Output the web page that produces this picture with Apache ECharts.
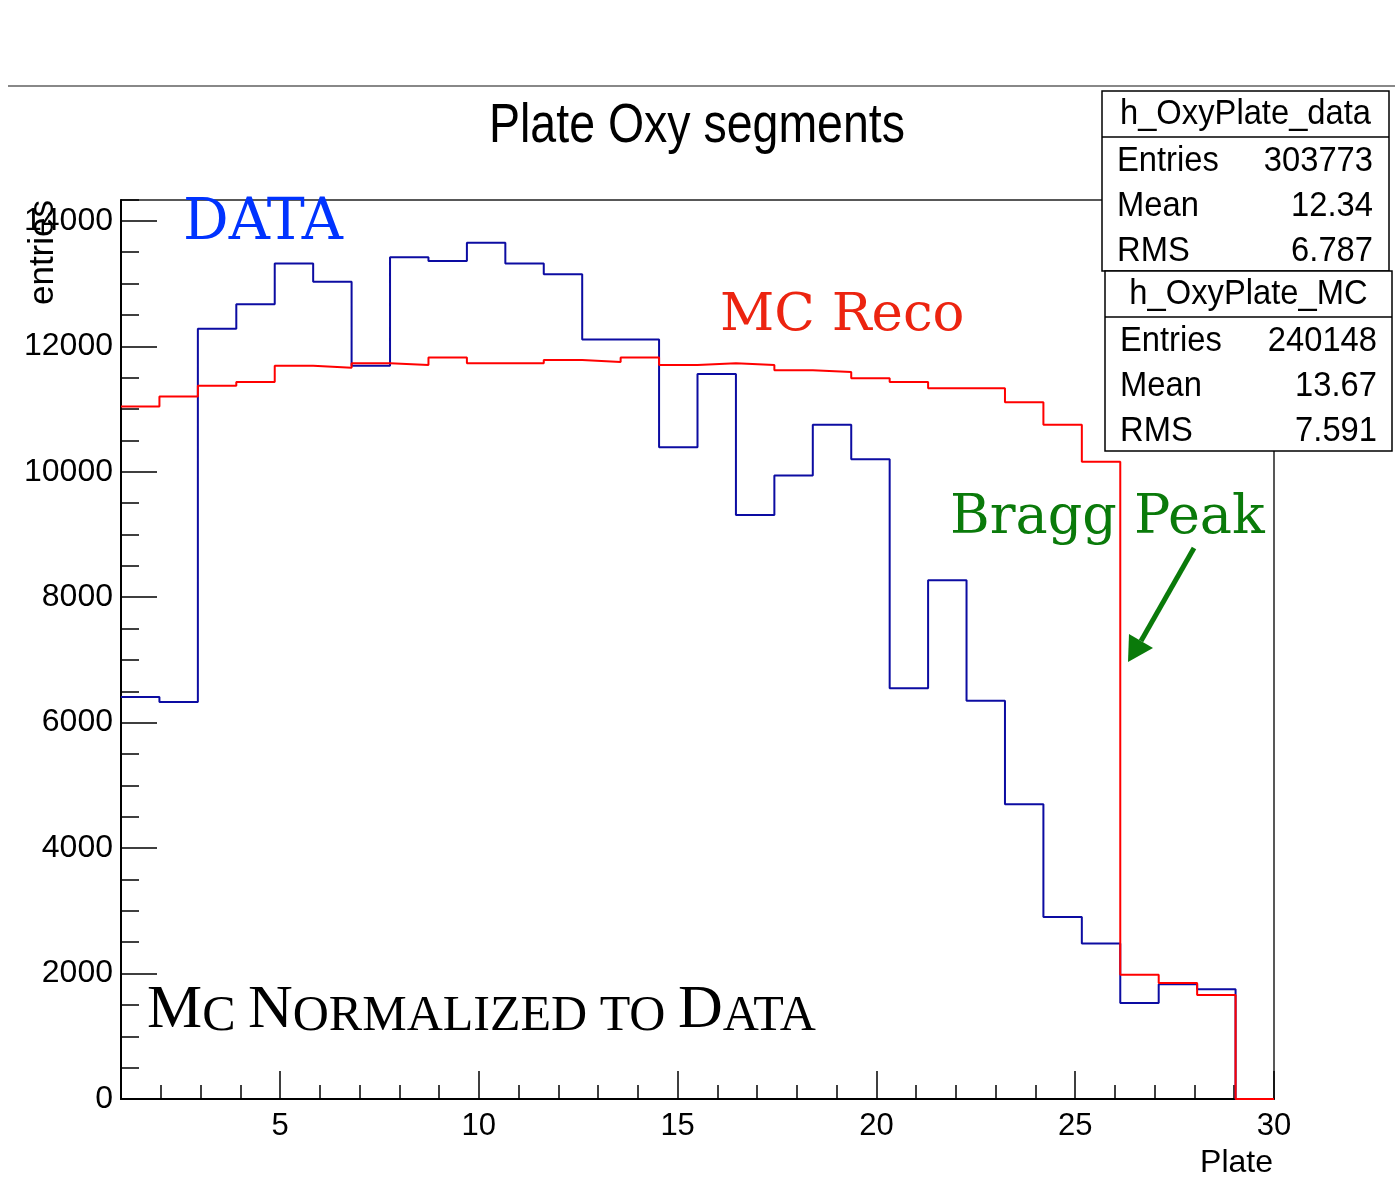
<!DOCTYPE html>
<html>
<head>
<meta charset="utf-8">
<script src="https://cdn.jsdelivr.net/npm/echarts@6/dist/echarts.min.js"></script>
<style>
  html, body { margin: 0; padding: 0; background: #fff; }
  #chart { width: 1395px; height: 1180px; }
</style>
</head>
<body>
<div id="chart"></div>
<script>
// Histogram binning: 30 equal bins spanning plate 1 .. 30
const binLow = 1;
const binHigh = 30;

// Bin contents, one per bin
const dataCounts = [6410, 6330, 12280, 12670, 13320, 13030, 11690, 13420, 13360, 13650,
                    13320, 13150, 12110, 12110, 10390, 11560, 9310, 9940, 10750, 10200,
                    6550, 8270, 6350, 4700, 2900, 2480, 1530, 1830, 1750, 0];
const mcCounts   = [11040, 11200, 11370, 11430, 11690, 11660, 11730, 11700, 11820, 11730,
                    11730, 11780, 11750, 11820, 11700, 11730, 11700, 11620, 11590, 11490,
                    11430, 11330, 11330, 11110, 10750, 10160, 1980, 1850, 1660, 0];

// Axis tick labels
const xTickLabels = [5, 10, 15, 20, 25, 30];
const yTickLabels = [0, 2000, 4000, 6000, 8000, 10000, 12000, 14000];

// Statistics boxes
const dataStatsTitle = 'h_OxyPlate_data';
const dataStats = [['Entries', '303773'], ['Mean', '12.34'], ['RMS', '6.787']];
const mcStatsTitle = 'h_OxyPlate_MC';
const mcStats = [['Entries', '240148'], ['Mean', '13.67'], ['RMS', '7.591']];

// y range: 5% headroom above the tallest bin
const yMax = 1.05 * Math.max(...dataCounts, ...mcCounts);

// Histogram outline: each bin contributes its top-left and top-right corner
function outline(counts) {
  const w = (binHigh - binLow) / counts.length;
  const pts = [];
  counts.forEach((c, i) => {
    pts.push([binLow + i * w, c]);
    pts.push([binLow + (i + 1) * w, c]);
  });
  return pts;
}

const SANS = 'Liberation Sans, Arial, Helvetica, sans-serif';
const SLAB = 'DejaVu Serif, serif';
const STAT_FONT = '35px ' + SANS;
const STAT_SX = 0.935;

function statsBox(x, y, w, title, rows, leftPad, rightPad) {
  const els = [];
  els.push({ type: 'rect', shape: { x: x, y: y, width: w, height: 180 },
             style: { fill: '#fff', stroke: '#000', lineWidth: 1.5 } });
  els.push({ type: 'line', shape: { x1: x, y1: y + 46, x2: x + w, y2: y + 46 },
             style: { stroke: '#000', lineWidth: 1.5 } });
  els.push({ type: 'text', x: x + w / 2, y: y + 23, scaleX: STAT_SX,
             style: { text: title, font: STAT_FONT, fill: '#000', align: 'center', verticalAlign: 'middle' } });
  rows.forEach((r, i) => {
    const cy = y + 70 + i * 45;
    els.push({ type: 'text', x: x + leftPad, y: cy, scaleX: STAT_SX,
               style: { text: r[0], font: STAT_FONT, fill: '#000', align: 'left', verticalAlign: 'middle' } });
    els.push({ type: 'text', x: x + w - rightPad, y: cy, scaleX: STAT_SX,
               style: { text: r[1], font: STAT_FONT, fill: '#000', align: 'right', verticalAlign: 'middle' } });
  });
  return { type: 'group', z: 100, children: els };
}

const chart = echarts.init(document.getElementById('chart'), null, { renderer: 'canvas' });

chart.setOption({
  animation: false,
  backgroundColor: '#fff',
  grid: {
    left: 121, right: 121, top: 200, bottom: 81,
    show: true, borderColor: '#222', borderWidth: 1.5, backgroundColor: 'transparent'
  },
  xAxis: [
    {
      type: 'value', min: binLow, max: binHigh, position: 'bottom',
      axisLine: { onZero: false, lineStyle: { color: '#000', width: 2 } },
      axisTick: { inside: true, length: 28, customValues: xTickLabels, lineStyle: { color: '#000', width: 1.5 } },
      axisLabel: { customValues: xTickLabels, fontSize: 31, fontFamily: SANS, color: '#000', margin: 12,
                   formatter: v => String(v) },
      splitLine: { show: false }
    },
    {
      type: 'value', min: binLow, max: binHigh, interval: 1, position: 'bottom',
      axisLine: { show: false },
      axisTick: { inside: true, length: 14, lineStyle: { color: '#000', width: 1.5 } },
      axisLabel: { show: false },
      splitLine: { show: false }
    }
  ],
  yAxis: [
    {
      type: 'value', min: 0, max: yMax, position: 'left',
      axisLine: { show: true, onZero: false, lineStyle: { color: '#000', width: 2 } },
      axisTick: { show: true, inside: true, length: 36, customValues: yTickLabels, lineStyle: { color: '#000', width: 1.5 } },
      axisLabel: { customValues: yTickLabels, fontSize: 32, fontFamily: SANS, color: '#000', margin: 8,
                   formatter: v => String(v) },
      splitLine: { show: false }
    },
    {
      type: 'value', min: 0, max: yMax, interval: 500, position: 'left',
      axisLine: { show: false },
      axisTick: { show: true, inside: true, length: 18, lineStyle: { color: '#000', width: 1.5 } },
      axisLabel: { show: false },
      splitLine: { show: false }
    }
  ],
  series: [
    {
      name: 'h_OxyPlate_data', type: 'line', xAxisIndex: 0, yAxisIndex: 0,
      data: outline(dataCounts), symbol: 'none',
      lineStyle: { color: '#0c0ca2', width: 2 }, z: 3
    },
    {
      name: 'h_OxyPlate_MC', type: 'line', xAxisIndex: 0, yAxisIndex: 0,
      data: outline(mcCounts), symbol: 'none',
      lineStyle: { color: '#ff0000', width: 2 }, z: 4
    }
  ],
  graphic: [
    // canvas pad border
    { type: 'line', shape: { x1: 8, y1: 86, x2: 1395, y2: 86 }, style: { stroke: '#888', lineWidth: 2 } },
    // title
    { type: 'text', x: 697, y: 127, scaleX: 0.83,
      style: { text: 'Plate Oxy segments', font: '56px ' + SANS, fill: '#000', align: 'center', verticalAlign: 'middle' } },
    // axis titles
    { type: 'text', x: 43, y: 200, rotation: Math.PI / 2,
      style: { text: 'entries', font: '35px ' + SANS, fill: '#000', align: 'right', verticalAlign: 'middle' } },
    { type: 'text', x: 1273, y: 1163,
      style: { text: 'Plate', font: '32px ' + SANS, fill: '#000', align: 'right', verticalAlign: 'middle' } },
    // annotations
    { type: 'text', x: 183, y: 224, z: 50,
      style: { text: 'DATA', font: '57px ' + SLAB, fill: '#0033ff', align: 'left', verticalAlign: 'middle' } },
    { type: 'text', x: 720, y: 316, z: 50,
      style: { text: 'MC Reco', font: '53px ' + SLAB, fill: '#ec2410', align: 'left', verticalAlign: 'middle' } },
    { type: 'text', x: 950, y: 519, z: 50,
      style: { text: 'Bragg Peak', font: '54px ' + SLAB, fill: '#0a7a0a', align: 'left', verticalAlign: 'middle' } },
    { type: 'line', z: 50, shape: { x1: 1194, y1: 548, x2: 1141, y2: 641 },
      style: { stroke: '#0a7a0a', lineWidth: 5 } },
    { type: 'polygon', z: 50, shape: { points: [[1128, 662], [1129, 634], [1153, 648]] },
      style: { fill: '#0a7a0a' } },
    { type: 'text', x: 147, y: 972, z: 50,
      style: {
        text: '{b|M}{s|C }{b|N}{s|ORMALIZED TO }{b|D}{s|ATA}',
        fill: '#000', align: 'left', verticalAlign: 'top',
        rich: {
          b: { fontSize: 62, fontFamily: 'Liberation Serif, Times New Roman, serif', lineHeight: 70, verticalAlign: 'bottom', fill: '#000' },
          s: { fontSize: 50, fontFamily: 'Liberation Serif, Times New Roman, serif', lineHeight: 62, verticalAlign: 'bottom', fill: '#000' }
        }
      } },
    // statistics boxes
    statsBox(1102, 91, 287, dataStatsTitle, dataStats, 15, 16),
    statsBox(1105, 271, 287, mcStatsTitle, mcStats, 15, 15)
  ]
});
</script>
</body>
</html>
